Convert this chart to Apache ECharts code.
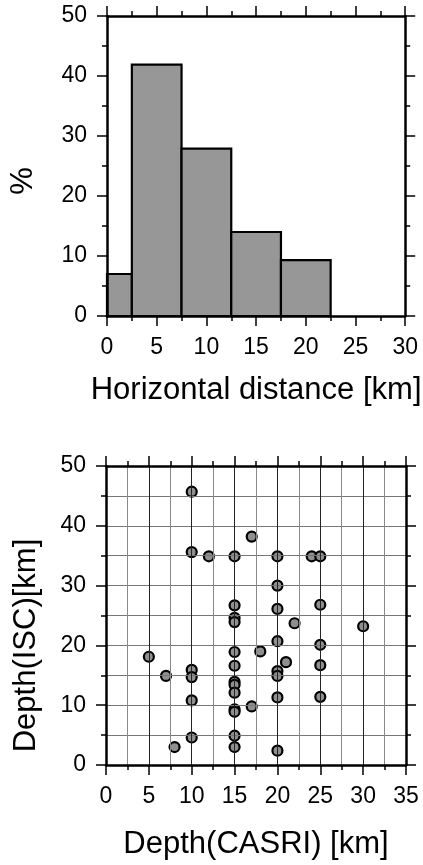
<!DOCTYPE html>
<html>
<head>
<meta charset="utf-8">
<script src="https://cdn.jsdelivr.net/npm/echarts@6/dist/echarts.min.js"></script>
<style>
html,body{margin:0;padding:0;background:#fff;}
#chart{width:423px;height:865px;}
</style>
</head>
<body>
<div id="chart"></div>
<script>
// Histogram: bin edges (km) and percentage per bin
const binEdges = [0, 2.5, 7.5, 12.5, 17.5, 22.5];
const percent = [7.0, 41.9, 27.9, 14.0, 9.3];

// Scatter: depth CASRI (x) vs depth ISC (y), km
const casriDepth = [5, 7, 8, 10, 10, 10, 10, 10, 10, 12,
  15, 15, 15, 15, 15, 15, 15, 15, 15, 15, 15, 15, 15,
  17, 17, 18, 20, 20, 20, 20, 20, 20, 20, 20, 21, 22, 24,
  25, 25, 25, 25, 25, 30];
const iscDepth = [18.1, 14.9, 3.0, 45.7, 35.6, 15.9, 14.7, 10.8, 4.6, 34.9,
  34.9, 26.7, 24.6, 23.9, 18.9, 16.6, 13.9, 13.4, 12.1, 9.3, 8.9, 4.9, 3.0,
  38.2, 9.8, 19.0, 34.9, 30.0, 26.1, 20.7, 15.7, 14.9, 11.3, 2.4, 17.2, 23.7, 34.9,
  34.9, 26.8, 20.1, 16.7, 11.4, 23.2];

// Tick label lists
const histXTicks = [0, 5, 10, 15, 20, 25, 30];
const histYTicks = [0, 10, 20, 30, 40, 50];
const scatXTicks = [0, 5, 10, 15, 20, 25, 30, 35];
const scatYTicks = [0, 10, 20, 30, 40, 50];

const FONT = 'Liberation Sans';
const histData = percent.map((p, i) => [binEdges[i], binEdges[i + 1], p]);
const scatData = casriDepth.map((x, i) => [x, iscDepth[i]]);

function axisBase(ticks, interval, opts) {
  return Object.assign({
    type: 'value',
    min: ticks[0],
    max: ticks[ticks.length - 1],
    interval: interval,
    axisLine: { show: true, onZero: false, lineStyle: { color: '#000', width: 2.5 } },
    axisTick: { show: true, inside: false, length: 10, lineStyle: { color: '#000', width: 1.5 } },
    minorTick: { show: true, splitNumber: 2, length: 5, lineStyle: { color: '#000', width: 1.5 } },
    axisLabel: { show: true, fontFamily: FONT, fontSize: 23, color: '#000', margin: 20 },
    splitLine: { show: false },
    minorSplitLine: { show: false },
    z: 10
  }, opts || {});
}

const grids = [
  { left: 106, top: 16, width: 300, height: 300 },
  { left: 106, top: 466, width: 300, height: 299 }
];

const titleStyle = { fontFamily: FONT, fontSize: 31, color: '#000' };

const option = {
  animation: false,
  backgroundColor: '#fff',
  grid: grids,
  xAxis: [
    axisBase(histXTicks, 5, {
      gridIndex: 0, position: 'bottom',
      name: 'Horizontal distance [km]', nameLocation: 'middle', nameGap: 59,
      nameTextStyle: titleStyle
    }),
    axisBase(histXTicks, 5, { gridIndex: 0, position: 'top', axisLabel: { show: false } }),
    axisBase(scatXTicks, 5, {
      gridIndex: 1, position: 'bottom',
      name: 'Depth(CASRI) [km]', nameLocation: 'middle', nameGap: 64,
      nameTextStyle: titleStyle,
      splitLine: { show: true, lineStyle: { color: '#222', width: 1 } },
      minorSplitLine: { show: true, lineStyle: { color: '#8a8a8a', width: 1 } }
    }),
    axisBase(scatXTicks, 5, { gridIndex: 1, position: 'top', axisLabel: { show: false } })
  ],
  yAxis: [
    axisBase(histYTicks, 10, {
      gridIndex: 0, position: 'left',
      name: '%', nameLocation: 'middle', nameGap: 68, nameRotate: 90,
      nameTextStyle: Object.assign({}, titleStyle, { padding: [0, 30, 0, 0] })
    }),
    axisBase(histYTicks, 10, { gridIndex: 0, position: 'right', axisLabel: { show: false } }),
    axisBase(scatYTicks, 10, {
      gridIndex: 1, position: 'left',
      name: 'Depth(ISC)[km]', nameLocation: 'middle', nameGap: 64, nameRotate: 90,
      nameTextStyle: Object.assign({}, titleStyle, { padding: [0, 60, 0, 0] }),
      splitLine: { show: true, lineStyle: { color: '#777', width: 1 } },
      minorSplitLine: { show: true, lineStyle: { color: '#777', width: 1 } }
    }),
    axisBase(scatYTicks, 10, { gridIndex: 1, position: 'right', axisLabel: { show: false } })
  ],
  series: [
    {
      type: 'custom',
      xAxisIndex: 0, yAxisIndex: 0,
      data: histData,
      encode: { x: [0, 1], y: 2 },
      renderItem: function (params, api) {
        const p0 = api.coord([api.value(0), api.value(2)]);
        const p1 = api.coord([api.value(1), 0]);
        return {
          type: 'rect',
          shape: { x: p0[0], y: p0[1], width: p1[0] - p0[0], height: p1[1] - p0[1] },
          style: { fill: '#979797', stroke: '#000', lineWidth: 2.2 }
        };
      },
      z: 5
    },
    {
      type: 'scatter',
      xAxisIndex: 2, yAxisIndex: 2,
      data: scatData,
      symbol: 'circle',
      symbolSize: 10,
      itemStyle: { color: '#8f8f8f', borderColor: '#000', borderWidth: 2.2, opacity: 1 },
      z: 5
    }
  ]
};

const chart = echarts.init(document.getElementById('chart'), null, { renderer: 'canvas' });
chart.setOption(option);
</script>
</body>
</html>
